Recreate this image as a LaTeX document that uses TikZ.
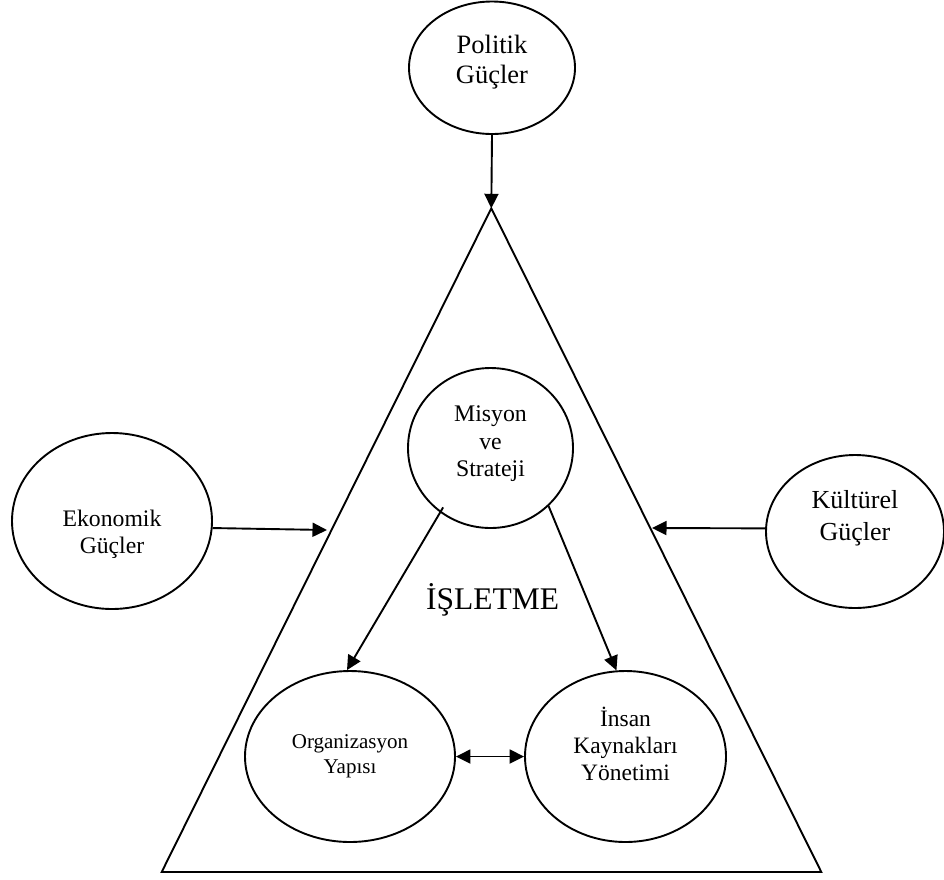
\documentclass[tikz,border=0pt]{standalone}
\usepackage{fontspec}
\setmainfont{Liberation Serif}
\usetikzlibrary{shapes.geometric,arrows.meta}
\begin{document}
\begin{tikzpicture}[x=1pt,y=-1pt,
  force/.style={ellipse,draw,line width=1.9pt,inner sep=0pt},
  link/.style={line width=1.9pt,-{Triangle[length=14.5pt,width=14pt]}},
  twoway/.style={line width=1.9pt,{Triangle[length=14.5pt,width=14pt]}-{Triangle[length=14.5pt,width=14pt]}},
  txt/.style={align=center}
]
\useasboundingbox (0,0) rectangle (944,879);

% the firm as a triangle
\coordinate (apex)  at (491.3,208.3);
\coordinate (baseL) at (161.7,872);
\coordinate (baseR) at (821.3,872);
\draw[line width=1.9pt,line join=miter] (apex) -- (baseL) -- (baseR) -- cycle;

% outside forces
\node[force,minimum width=166pt,minimum height=132.5pt,
  label={[txt,font=\fontsize{26.5}{30}\selectfont,yshift=5.6pt]center:{Politik\\Güçler}}]
  (pol) at (492,67.75) {};
\node[force,minimum width=200pt,minimum height=176pt,
  label={[txt,font=\fontsize{23.7}{27.5}\selectfont,yshift=-13.5pt]center:{Ekonomik\\Güçler}}]
  (eko) at (112,521) {};
\node[force,minimum width=178pt,minimum height=153pt,
  label={[txt,font=\fontsize{26}{31.5}\selectfont,yshift=13.5pt]center:{Kültürel\\Güçler}}]
  (kul) at (855,531.5) {};

% inside the firm
\node[force,minimum width=165pt,minimum height=160pt,
  label={[txt,font=\fontsize{23.8}{27.5}\selectfont,yshift=4pt]center:{Misyon\\ve\\Strateji}}]
  (mis) at (490.5,448) {};
\node[force,minimum width=210pt,minimum height=171pt,
  label={[txt,font=\fontsize{21}{25}\selectfont]center:{Organizasyon\\Yapısı}}]
  (org) at (350,756.5) {};
\node[force,minimum width=201pt,minimum height=171pt,
  label={[txt,font=\fontsize{23.5}{27}\selectfont,yshift=12.5pt]center:{İnsan\\Kaynakları\\Yönetimi}}]
  (ins) at (625.5,756.5) {};
\node[anchor=base,font=\fontsize{31.5}{36}\selectfont] (firm) at (492.5,609) {İŞLETME};

% connectors
\coordinate (ekoTip) at (327,530);
\coordinate (kulTip) at (652,528);
\draw[link] (pol.south) -- (apex);
\draw[link] (eko.-4) -- (ekoTip);
\draw[link] (kul.178) -- (kulTip);
\draw[link,shorten <=-6pt] (mis.232) -- (org.92);
\draw[link] (mis.-45.5) -- (ins.96);
\draw[twoway] (org.east) -- (ins.west);
\end{tikzpicture}
\end{document}
